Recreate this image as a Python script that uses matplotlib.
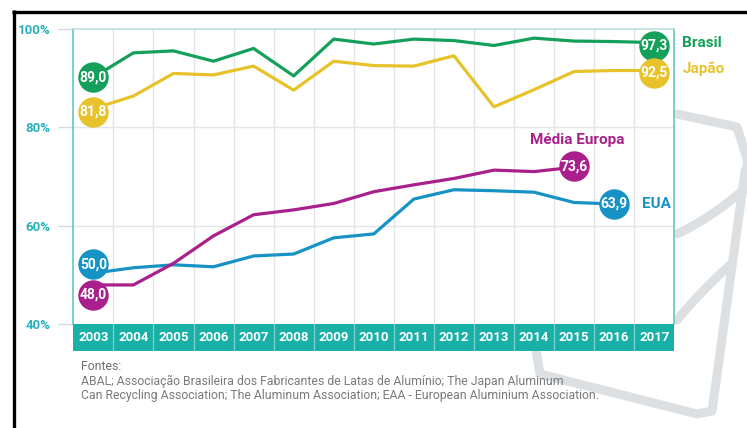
import matplotlib
matplotlib.use('Agg')
import matplotlib.pyplot as plt
from matplotlib.path import Path
from matplotlib.patches import PathPatch
from matplotlib.transforms import offset_copy

plt.rcParams['font.family'] = ['Roboto', 'DejaVu Sans']

# ---------------- data ----------------
years = [2003, 2004, 2005, 2006, 2007, 2008, 2009, 2010, 2011, 2012, 2013, 2014, 2015, 2016, 2017]
brasil = [90.2, 95.2, 95.6, 93.5, 96.1, 90.5, 98.0, 97.0, 98.0, 97.7, 96.7, 98.2, 97.6, 97.5, 97.3]
japao = [83.8, 86.4, 91.0, 90.7, 92.5, 87.6, 93.5, 92.6, 92.5, 94.6, 84.2, 87.7, 91.4, 91.6, 91.6]
eua = [50.3, 51.4, 52.0, 51.6, 53.8, 54.2, 57.5, 58.3, 65.4, 67.3, 67.1, 66.8, 64.7, 64.4]
europa = [47.9, 47.9, 52.3, 57.9, 62.2, 63.2, 64.5, 66.9, 68.3, 69.6, 71.3, 71.0, 71.9]
start_labels = ["89,0", "81,8", "50,0", "48,0"]
end_labels = ["97,3", "92,5", "63,9", "73,6"]
series_names = ["Brasil", "Japão", "EUA", "Média Europa"]
y_ticks = [40, 60, 80, 100]
y_tick_labels = ["40%", "60%", "80%", "100%"]
source_title = "Fontes:"
source_lines = ["ABAL; Associação Brasileira dos Fabricantes de Latas de Alumínio; The Japan Aluminum",
                "Can Recycling Association; The Aluminum Association; EAA - European Aluminium Association."]

# ---------------- style ----------------
GREEN = '#14A05A'
YELLOW = '#E7C22B'
MAGENTA = '#A9208D'
BLUE = '#1792C5'
TEAL = '#19B0A8'
TEAL_TXT = '#26B2BC'
GRID = '#E1E5E8'
WM = '#DCE0E3'

W, H = 747, 428
fig = plt.figure(figsize=(W / 100, H / 100), dpi=100, facecolor='white')

# background layer (watermark + border)
bg = fig.add_axes([0, 0, 1, 1], zorder=-5)
bg.set_xlim(0, W)
bg.set_ylim(H, 0)
bg.axis('off')

def stroke(pts, codes=None):
    if codes is None:
        codes = [Path.MOVETO] + [Path.LINETO] * (len(pts) - 1)
    bg.add_patch(PathPatch(Path(pts, codes), fill=False, edgecolor=WM, lw=6.5,
                           capstyle='round', joinstyle='round'))

stroke([(677, 114), (737, 127), (749, 165)])
stroke([(536, 350), (540, 374), (697, 414), (712, 411), (745, 172), (752, 150)])
stroke([(677, 234), (712, 218), (748, 186)], [Path.MOVETO, Path.CURVE3, Path.CURVE3])
stroke([(677, 320), (700, 292), (730, 265)], [Path.MOVETO, Path.CURVE3, Path.CURVE3])

bg.plot([12, W + 2], [11.5, 11.5], color='black', lw=2.4, solid_capstyle='butt')
bg.plot([13.5, 13.5], [10.3, H + 2], color='black', lw=2.4, solid_capstyle='butt')

# main axes
L, R, T, B = 73.3, 674.3, 29.3, 323.7
ax = fig.add_axes([L / W, 1 - B / H, (R - L) / W, (B - T) / H], zorder=1)
ax.set_facecolor('white')
n = len(years)
ax.set_xlim(-0.5, n - 0.5)
ax.set_ylim(40, 100)
ax.set_xticks([])
ax.set_yticks(y_ticks)
ax.set_yticklabels(y_tick_labels)
ax.tick_params(axis='y', length=10.8, width=1, color='#D5DADE', pad=5.5,
               labelsize=9.5, labelcolor=TEAL_TXT)
for t in ax.get_yticklabels():
    t.set_fontweight('bold')
for y in y_ticks[1:-1]:
    ax.axhline(y, color=GRID, lw=1, zorder=0)
for i in range(n - 1):
    ax.axvline(i + 0.5, color=GRID, lw=1, zorder=0)
ax.spines['bottom'].set_visible(False)
ax.spines['left'].set_color('#55C4BC')
ax.spines['right'].set_color('#55C4BC')
ax.spines['top'].set_color('#B5DEDC')
for s in ['left', 'right', 'top']:
    ax.spines[s].set_linewidth(1.1)

series = [brasil, japao, eua, europa]
colors = [GREEN, YELLOW, BLUE, MAGENTA]
start_dy = [0, -3, 9, -10]
end_dy = [-3, -2, 0, 1]
name_off = [(28, 0), (28, 2), (28, 0), (3, 27)]
name_ha = ['left', 'left', 'left', 'center']

for vals, col in zip(series, colors):
    ax.plot(range(len(vals)), vals, color=col, lw=2.3, zorder=3)

def badge(x, y, dy, text, col):
    tr = offset_copy(ax.transData, fig=fig, x=0, y=dy, units='dots')
    ax.scatter([x], [y], s=480, color=col, transform=tr, zorder=5, clip_on=False,
               linewidths=0)
    ax.text(x, y, text, transform=tr, ha='center', va='center', color='white',
            fontsize=10, fontweight='bold', zorder=6, clip_on=False)

for k, (vals, col) in enumerate(zip(series, colors)):
    badge(0, vals[0], start_dy[k], start_labels[k], col)
    last = len(vals) - 1
    badge(last, vals[last], end_dy[k], end_labels[k], col)
    ax.annotate(series_names[k], xy=(last, vals[last]), xytext=name_off[k],
                textcoords='offset pixels', ha=name_ha[k], va='center',
                color=col, fontsize=11, fontweight='bold', annotation_clip=False,
                zorder=6)

# year band
bax = fig.add_axes([L / W, 1 - 351 / H, (R - L) / W, (351 - B) / H], zorder=2)
bax.set_facecolor(TEAL)
bax.set_xlim(-0.5, n - 0.5)
bax.set_ylim(0, 1)
bax.set_xticks([])
bax.set_yticks([])
for s in bax.spines.values():
    s.set_visible(False)
for i in range(n - 1):
    bax.axvline(i + 0.5, color='#7FD3CD', lw=0.9)
for i, yr in enumerate(years):
    bax.text(i, 0.5, str(yr), ha='center', va='center', color='white',
             fontsize=9.5, fontweight='bold')

# sources
fig.text(81 / W, 1 - 366.5 / H, source_title, ha='left', va='center', fontsize=8.8,
         color='#6E6E6E')
for j, line in enumerate(source_lines):
    fig.text(81 / W, 1 - (381.5 + 14.5 * j) / H, line, ha='left', va='center',
             fontsize=8.8, color='#7A7A7A')

fig.savefig('out.png', dpi=100, facecolor='white')
